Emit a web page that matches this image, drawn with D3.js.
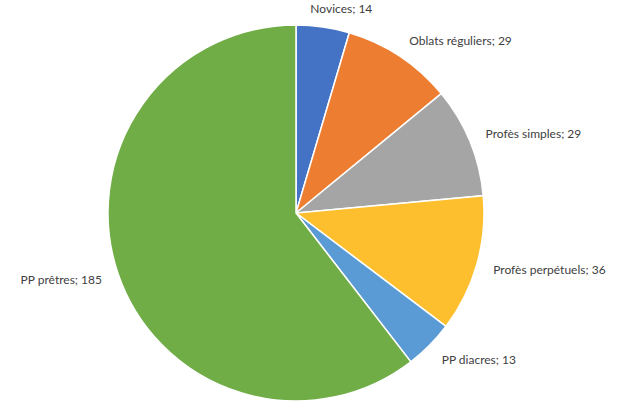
<!DOCTYPE html>
<html>
<head>
<meta charset="utf-8">
<script src="https://cdn.jsdelivr.net/npm/d3@7"></script>
<style>
  body { margin: 0; background: #fff; }
  text { font-family: Lato, "Open Sans", sans-serif; font-size: 12px; fill: #404040; }
</style>
</head>
<body>
<svg id="Vis" width="632" height="410"></svg>
<script>
const categories = ["Novices", "Oblats réguliers", "Profès simples", "Profès perpétuels", "PP diacres", "PP prêtres"];
const values = [14, 29, 29, 36, 13, 185];
const colors = ["#4472c4", "#ed7d31", "#a5a5a5", "#fdbf2d", "#5b9bd5", "#70ad47"];

const center = { x: 296, y: 213 };
const radius = 188;
const labelRadius = 205;

const svg = d3.select("svg#Vis");
const plot = svg.append("g")
  .attr("transform", "translate(" + center.x + "," + center.y + ")");

const pie = d3.pie().sort(null).value(d => d.value);
const arcs = pie(categories.map((c, i) => ({ name: c, value: values[i], color: colors[i] })));

const arc = d3.arc().innerRadius(0).outerRadius(radius);
const labelArc = d3.arc().innerRadius(labelRadius).outerRadius(labelRadius);

plot.append("g").attr("id", "slices")
  .selectAll("path")
  .data(arcs)
  .enter()
  .append("path")
    .attr("d", arc)
    .style("fill", d => d.data.color)
    .style("stroke", "#fff")
    .style("stroke-width", 1.5);

// labels sit just outside the rim; ones below the middle drop a little,
// the one near the top is pulled back towards the centre line
plot.append("g").attr("id", "labels")
  .selectAll("text")
  .data(arcs)
  .enter()
  .append("text")
    .attr("transform", d => {
      const p = labelArc.centroid(d);
      const mid = (d.startAngle + d.endAngle) / 2;
      const dx = Math.cos(mid) > 0.95 ? -15 : 0;
      const dy = Math.max(0, -Math.cos(mid)) * 6;
      return "translate(" + (p[0] + dx) + "," + (p[1] + dy) + ")";
    })
    .attr("dominant-baseline", "middle")
    .attr("text-anchor", d => ((d.startAngle + d.endAngle) / 2 < Math.PI) ? "start" : "end")
    .text(d => d.data.name + "; " + d.data.value);
</script>
</body>
</html>
